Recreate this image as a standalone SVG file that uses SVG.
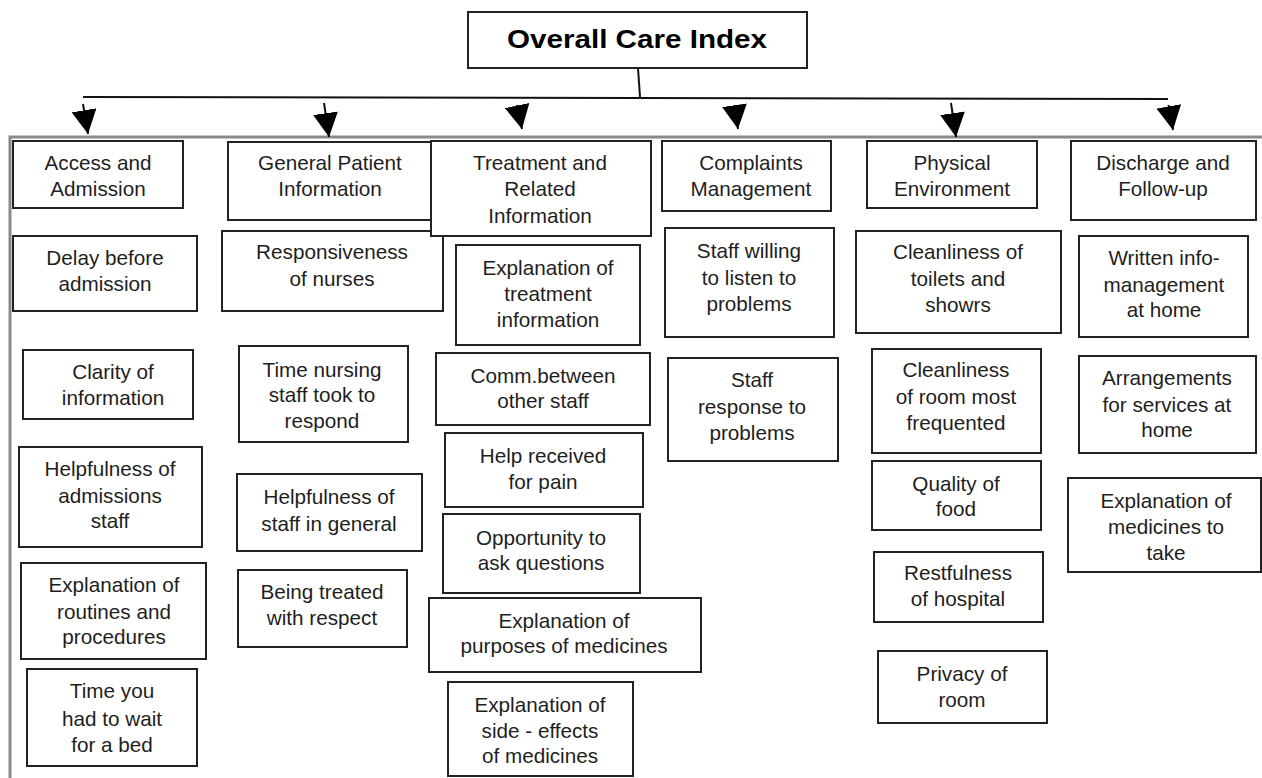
<svg xmlns="http://www.w3.org/2000/svg" width="1262" height="778" viewBox="0 0 1262 778">
<style>
.b{fill:#fff;stroke:#222;stroke-width:2}
.t{font-family:"Liberation Sans",Arial,sans-serif;font-size:20.7px;fill:#1e1e1e;text-anchor:middle}
.h{font-family:"Liberation Sans",Arial,sans-serif;font-size:26px;font-weight:bold;fill:#000;text-anchor:middle}
.c{stroke:#111;stroke-width:2;fill:none}
</style>
<defs>
<marker id="ah" markerUnits="userSpaceOnUse" viewBox="0 0 24 25" markerWidth="24" markerHeight="25" refX="24" refY="12.5" orient="auto">
<path d="M0,0 L24,12.5 L0,25 z" fill="#000"/>
</marker>
</defs>
<rect width="1262" height="778" fill="#fff"/>
<rect x="10" y="137" width="1260" height="660" fill="none" stroke="#8a8a8a" stroke-width="3"/>

<g id="connectors">
<line class="c" x1="638" y1="68" x2="640" y2="97"/>
<line class="c" x1="83" y1="97" x2="1168" y2="99"/>
<line class="c" x1="83" y1="104" x2="88" y2="134" marker-end="url(#ah)"/>
<line class="c" x1="324" y1="103" x2="329" y2="137" marker-end="url(#ah)"/>
<line class="c" x1="517" y1="105" x2="522" y2="129" marker-end="url(#ah)"/>
<line class="c" x1="734.5" y1="105.5" x2="738" y2="129" marker-end="url(#ah)"/>
<line class="c" x1="951" y1="103" x2="956" y2="137" marker-end="url(#ah)"/>
<line class="c" x1="1168.5" y1="105" x2="1173" y2="130" marker-end="url(#ah)"/>
</g>

<g id="overall"><rect class="b" x="468" y="12" width="339" height="56"/><text class="h" x="637" y="48" textLength="260" lengthAdjust="spacingAndGlyphs">Overall Care Index</text></g>

<g id="access"><rect class="b" x="13" y="141" width="170" height="67"/><text class="t" x="98" y="170">Access and</text><text class="t" x="98" y="196">Admission</text></g>
<g id="delay"><rect class="b" x="13" y="236" width="184" height="75"/><text class="t" x="105" y="265">Delay before</text><text class="t" x="105" y="291">admission</text></g>
<g id="clarity"><rect class="b" x="23" y="350" width="170" height="69"/><text class="t" x="113" y="379">Clarity of</text><text class="t" x="113" y="405">information</text></g>
<g id="helpadm"><rect class="b" x="19" y="447" width="183" height="100"/><text class="t" x="110" y="476">Helpfulness of</text><text class="t" x="110" y="503">admissions</text><text class="t" x="110" y="528">staff</text></g>
<g id="routines"><rect class="b" x="21" y="563" width="185" height="96"/><text class="t" x="114" y="592">Explanation of</text><text class="t" x="114" y="619">routines and</text><text class="t" x="114" y="644">procedures</text></g>
<g id="waitbed"><rect class="b" x="27" y="669" width="170" height="97"/><text class="t" x="112" y="698">Time you</text><text class="t" x="112" y="726">had to wait</text><text class="t" x="112" y="752">for a bed</text></g>

<g id="general"><rect class="b" x="228" y="142" width="204" height="78"/><text class="t" x="330" y="170">General Patient</text><text class="t" x="330" y="196">Information</text></g>
<g id="respnurses"><rect class="b" x="222" y="231" width="221" height="80"/><text class="t" x="332" y="259">Responsiveness</text><text class="t" x="332" y="286">of nurses</text></g>
<g id="timenursing"><rect class="b" x="239" y="346" width="169" height="96"/><text class="t" x="322" y="377">Time nursing</text><text class="t" x="322" y="402">staff took to</text><text class="t" x="322" y="428">respond</text></g>
<g id="helpgen"><rect class="b" x="237" y="474" width="185" height="77"/><text class="t" x="329" y="504">Helpfulness of</text><text class="t" x="329" y="531">staff in general</text></g>
<g id="respect"><rect class="b" x="238" y="570" width="169" height="77"/><text class="t" x="322" y="599">Being treated</text><text class="t" x="322" y="625">with respect</text></g>

<g id="treatment"><rect class="b" x="431" y="141" width="220" height="95"/><text class="t" x="540" y="170">Treatment and</text><text class="t" x="540" y="196">Related</text><text class="t" x="540" y="223">Information</text></g>
<g id="expltreat"><rect class="b" x="456" y="245" width="184" height="100"/><text class="t" x="548" y="275">Explanation of</text><text class="t" x="548" y="301">treatment</text><text class="t" x="548" y="327">information</text></g>
<g id="comm"><rect class="b" x="436" y="353" width="214" height="72"/><text class="t" x="543" y="383">Comm.between</text><text class="t" x="543" y="408">other staff</text></g>
<g id="pain"><rect class="b" x="445" y="433" width="198" height="74"/><text class="t" x="543" y="463">Help received</text><text class="t" x="543" y="489">for pain</text></g>
<g id="questions"><rect class="b" x="443" y="514" width="197" height="79"/><text class="t" x="541" y="545">Opportunity to</text><text class="t" x="541" y="570">ask questions</text></g>
<g id="purposes"><rect class="b" x="429" y="598" width="272" height="74"/><text class="t" x="564" y="628">Explanation of</text><text class="t" x="564" y="653">purposes of medicines</text></g>
<g id="sideeffects"><rect class="b" x="448" y="682" width="185" height="94"/><text class="t" x="540" y="712">Explanation of</text><text class="t" x="540" y="738">side - effects</text><text class="t" x="540" y="763">of medicines</text></g>

<g id="complaints"><rect class="b" x="662" y="141" width="169" height="70"/><text class="t" x="751" y="170">Complaints</text><text class="t" x="751" y="196">Management</text></g>
<g id="listen"><rect class="b" x="665" y="228" width="169" height="109"/><text class="t" x="749" y="258">Staff willing</text><text class="t" x="749" y="285">to listen to</text><text class="t" x="749" y="311">problems</text></g>
<g id="response"><rect class="b" x="668" y="358" width="170" height="103"/><text class="t" x="752" y="387">Staff</text><text class="t" x="752" y="414">response to</text><text class="t" x="752" y="440">problems</text></g>

<g id="physical"><rect class="b" x="867" y="141" width="170" height="67"/><text class="t" x="952" y="170">Physical</text><text class="t" x="952" y="196">Environment</text></g>
<g id="toilets"><rect class="b" x="856" y="231" width="205" height="102"/><text class="t" x="958" y="259">Cleanliness of</text><text class="t" x="958" y="286">toilets and</text><text class="t" x="958" y="312">showrs</text></g>
<g id="room"><rect class="b" x="872" y="349" width="169" height="104"/><text class="t" x="956" y="377">Cleanliness</text><text class="t" x="956" y="404">of room most</text><text class="t" x="956" y="430">frequented</text></g>
<g id="food"><rect class="b" x="872" y="461" width="169" height="69"/><text class="t" x="956" y="491">Quality of</text><text class="t" x="956" y="516">food</text></g>
<g id="restful"><rect class="b" x="874" y="552" width="169" height="70"/><text class="t" x="958" y="580">Restfulness</text><text class="t" x="958" y="606">of hospital</text></g>
<g id="privacy"><rect class="b" x="878" y="651" width="169" height="72"/><text class="t" x="962" y="681">Privacy of</text><text class="t" x="962" y="707">room</text></g>

<g id="discharge"><rect class="b" x="1071" y="141" width="185" height="79"/><text class="t" x="1163" y="170">Discharge and</text><text class="t" x="1163" y="196">Follow-up</text></g>
<g id="written"><rect class="b" x="1079" y="236" width="169" height="101"/><text class="t" x="1164" y="265">Written info-</text><text class="t" x="1164" y="292">management</text><text class="t" x="1164" y="317">at home</text></g>
<g id="arrangements"><rect class="b" x="1079" y="356" width="177" height="97"/><text class="t" x="1167" y="385">Arrangements</text><text class="t" x="1167" y="412">for services at</text><text class="t" x="1167" y="437">home</text></g>
<g id="medtake"><rect class="b" x="1068" y="478" width="193" height="94"/><text class="t" x="1166" y="508">Explanation of</text><text class="t" x="1166" y="534">medicines to</text><text class="t" x="1166" y="560">take</text></g>
</svg>
